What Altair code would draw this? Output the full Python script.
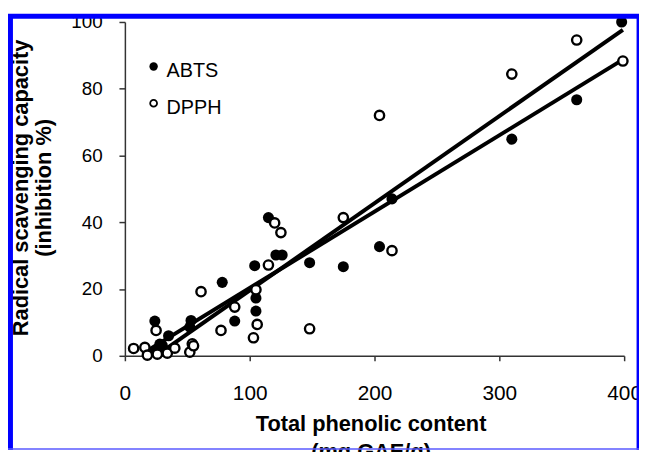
import altair as alt
import pandas as pd

# ---- data ----
series_names = ["ABTS", "DPPH"]

abts_x = [18, 24, 24, 28, 30, 33, 35, 52, 53, 78, 88, 104, 105, 105, 115, 121, 126,
          148, 175, 204, 214, 310, 362, 398]
abts_y = [1.0, 10.4, 1.1, 3.5, 3.1, 1.1, 6.0, 8.6, 10.6, 22.0, 10.4, 27.0, 17.3, 13.4,
          41.4, 30.2, 30.2, 27.9, 26.7, 32.7, 47.0, 64.9, 76.7, 100.0]

dpph_x = [7, 16, 18, 25, 26, 34, 40, 52, 54, 55, 61, 77, 88, 103, 105, 106, 115, 120,
          125, 148, 175, 204, 214, 310, 362, 399]
dpph_y = [2.2, 2.5, 0.2, 7.6, 0.5, 0.8, 2.3, 1.1, 3.6, 3.0, 19.2, 7.6, 14.6, 5.4, 19.8,
          9.4, 27.2, 39.8, 36.9, 8.1, 41.4, 72.0, 31.5, 84.4, 94.6, 88.3]

x_ticks = [0, 100, 200, 300, 400]
y_ticks = [0, 20, 40, 60, 80, 100]

x_title = ["Total phenolic content", "(mg GAE/g)"]
y_title = ["Radical scavenging capacity", "(inhibition %)"]

df = pd.concat([
    pd.DataFrame({"x": abts_x, "y": abts_y, "series": series_names[0]}),
    pd.DataFrame({"x": dpph_x, "y": dpph_y, "series": series_names[1]}),
], ignore_index=True)

FONT = "Liberation Sans"

x_enc = alt.X("x:Q", scale=alt.Scale(domain=[0, 400], nice=False, zero=True),
              axis=alt.Axis(values=x_ticks, grid=False, title=x_title,
                            labelFontSize=21, labelPadding=22, tickSize=5,
                            labelFlush=False, labelOverlap=False,
                            titleFontSize=22, titleFontWeight="bold",
                            titleX=248, titleY=75, titleAlign="center",
                            titleBaseline="alphabetic", titleLineHeight=29))
y_enc = alt.Y("y:Q", scale=alt.Scale(domain=[0, 100], nice=False, zero=True),
              axis=alt.Axis(values=y_ticks, grid=False, title=y_title,
                            labelFontSize=19, labelPadding=17, tickSize=6,
                            labelFlush=False, labelOverlap=False,
                            titleFontSize=22, titleFontWeight="bold",
                            titleX=-98, titleY=167, titleAlign="center",
                            titleAngle=270,
                            titleBaseline="alphabetic", titleLineHeight=23))

base = alt.Chart(df)

lines = base.transform_regression("x", "y", groupby=["series"]).mark_line(
    color="black", strokeWidth=4, clip=True
).encode(x=x_enc, y=y_enc, detail="series:N")

abts_pts = base.transform_filter(alt.datum.series == series_names[0]).mark_point(
    shape="circle", filled=True, color="black", size=125, opacity=1
).encode(x=x_enc, y=y_enc)

dpph_pts = base.transform_filter(alt.datum.series == series_names[1]).mark_point(
    shape="circle", filled=False, fill="white", fillOpacity=1, stroke="black",
    strokeWidth=2.4, size=88, opacity=1
).encode(x=x_enc, y=y_enc)

leg_df = pd.DataFrame({"series": series_names})

leg_abts_dot = alt.Chart(leg_df).transform_filter(alt.datum.series == series_names[0]).mark_point(
    shape="circle", filled=True, color="black", size=72, opacity=1
).encode(x=alt.value(29), y=alt.value(45))
leg_dpph_dot = alt.Chart(leg_df).transform_filter(alt.datum.series == series_names[1]).mark_point(
    shape="circle", filled=False, fill="white", stroke="black", strokeWidth=1.8,
    size=48, opacity=1
).encode(x=alt.value(29), y=alt.value(82))
leg_abts_txt = alt.Chart(leg_df).transform_filter(alt.datum.series == series_names[0]).mark_text(
    align="left", baseline="alphabetic", fontSize=20, font=FONT, color="black"
).encode(x=alt.value(42), y=alt.value(56), text="series:N")
leg_dpph_txt = alt.Chart(leg_df).transform_filter(alt.datum.series == series_names[1]).mark_text(
    align="left", baseline="alphabetic", fontSize=20, font=FONT, color="black"
).encode(x=alt.value(42), y=alt.value(93), text="series:N")

one = pd.DataFrame({"k": [0]})
BLUE = "#0000ff"
border_top = alt.Chart(one).mark_rule(color=BLUE, strokeWidth=5).encode(
    x=alt.value(-118), x2=alt.value(519), y=alt.value(-5.7))
border_left = alt.Chart(one).mark_rule(color=BLUE, strokeWidth=5).encode(
    x=alt.value(-115.5), y=alt.value(-8), y2=alt.value(432))
border_right = alt.Chart(one).mark_rule(color=BLUE, strokeWidth=2.5).encode(
    x=alt.value(517.8), y=alt.value(-8), y2=alt.value(432))
border_bottom = alt.Chart(one).mark_rule(color="#5a5aff", strokeWidth=1.5).encode(
    x=alt.value(-118), x2=alt.value(519), y=alt.value(431.2))

chart = alt.layer(
    lines, abts_pts, dpph_pts,
    leg_abts_dot, leg_dpph_dot, leg_abts_txt, leg_dpph_txt,
    border_top, border_left, border_right, border_bottom,
).properties(
    width=504, height=337,
    autosize=alt.AutoSizeParams(type="none"),
    padding={"left": 118, "top": 12, "right": 15, "bottom": 95},
    background="white",
).configure_view(stroke=None).configure_axis(
    labelFont=FONT, titleFont=FONT, labelColor="black", titleColor="black",
    domainColor="#333333", tickColor="#333333", domainWidth=1.5, tickWidth=1.5,
)

chart.save("out.html", embed_options={"renderer": "svg", "actions": False})
